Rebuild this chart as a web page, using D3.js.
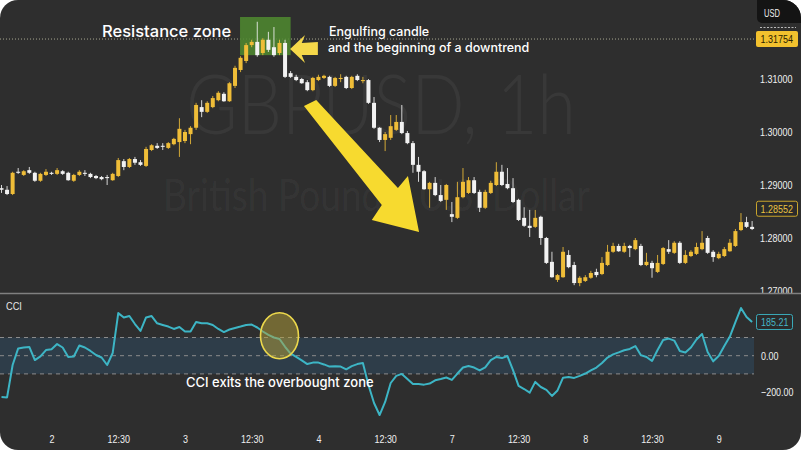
<!DOCTYPE html>
<html>
<head>
<meta charset="utf-8">
<script src="https://cdn.jsdelivr.net/npm/d3@7"></script>
<style>
  body { margin: 0; background: #ffffff; }
  svg { display: block; }
</style>
</head>
<body>
<div id="chart"></div>
<script>
// GBPUSD 1h candles
var openP = [1.2894,1.2891,1.2883,1.2925,1.2919,1.2928,1.2923,1.2908,1.2919,1.2923,
  1.2921,1.2926,1.2923,1.2908,1.2919,1.2923,1.2921,1.2917,1.2915,1.2915,
  1.2909,1.2917,1.2945,1.2934,1.2949,1.2943,1.2936,1.2966,1.2974,1.2974,
  1.2970,1.2977,1.2981,1.2983,1.2996,1.3008,1.3047,1.3038,1.3047,1.3060,
  1.3072,1.3058,1.3087,1.3117,1.3134,1.3164,1.3170,1.3149,1.3174,1.3160,
  1.3149,1.3168,1.3111,1.3104,1.3100,1.3094,1.3079,1.3098,1.3102,1.3104,
  1.3087,1.3100,1.3104,1.3083,1.3106,1.3096,1.3098,1.3055,1.3008,1.2985,
  1.2989,1.3004,1.3019,1.2998,1.2979,1.2938,1.2926,1.2892,1.2904,1.2881,
  1.2872,1.2845,1.2838,1.2877,1.2885,1.2909,1.2887,1.2857,1.2885,1.2900,
  1.2925,1.2902,1.2894,1.2872,1.2838,1.2823,1.2821,1.2840,1.2800,1.2755,
  1.2721,1.2726,1.2768,1.2749,1.2715,1.2719,1.2725,1.2736,1.2732,1.2749,
  1.2774,1.2785,1.2774,1.2785,1.2779,1.2785,1.2749,1.2753,1.2736,1.2751,
  1.2779,1.2772,1.2791,1.2753,1.2766,1.2770,1.2779,1.2800,1.2774,1.2762,
  1.2766,1.2775,1.2785,1.2815,1.2830,1.2821];

var highP = [1.2900,1.2898,1.2925,1.2932,1.2928,1.2934,1.2925,1.2923,1.2930,1.2925,
  1.2932,1.2928,1.2925,1.2921,1.2928,1.2928,1.2923,1.2919,1.2917,1.2919,
  1.2923,1.2951,1.2949,1.2951,1.2953,1.2947,1.2972,1.2977,1.2979,1.2979,
  1.2981,1.2989,1.3026,1.3004,1.3011,1.3055,1.3060,1.3058,1.3068,1.3077,
  1.3075,1.3094,1.3125,1.3143,1.3168,1.3174,1.3208,1.3177,1.3189,1.3198,
  1.3174,1.3174,1.3115,1.3108,1.3102,1.3098,1.3104,1.3108,1.3108,1.3106,
  1.3104,1.3109,1.3106,1.3106,1.3109,1.3104,1.3100,1.3066,1.3009,1.3000,
  1.3032,1.3032,1.3051,1.3002,1.2983,1.2953,1.2928,1.2906,1.2915,1.2900,
  1.2902,1.2868,1.2906,1.2932,1.2915,1.2915,1.2891,1.2891,1.2908,1.2943,
  1.2938,1.2932,1.2913,1.2874,1.2858,1.2853,1.2853,1.2842,1.2802,1.2774,
  1.2732,1.2783,1.2777,1.2755,1.2728,1.2730,1.2738,1.2742,1.2764,1.2787,
  1.2791,1.2789,1.2791,1.2787,1.2800,1.2789,1.2772,1.2757,1.2768,1.2783,
  1.2796,1.2794,1.2794,1.2777,1.2777,1.2791,1.2813,1.2804,1.2777,1.2774,
  1.2783,1.2798,1.2817,1.2847,1.2840,1.2832];

var lowP = [1.2885,1.2881,1.2881,1.2921,1.2917,1.2921,1.2906,1.2906,1.2917,1.2919,
  1.2919,1.2919,1.2908,1.2906,1.2917,1.2917,1.2913,1.2911,1.2909,1.2900,
  1.2908,1.2915,1.2928,1.2932,1.2938,1.2936,1.2934,1.2964,1.2968,1.2966,
  1.2968,1.2975,1.2953,1.2979,1.2977,1.3004,1.3028,1.3036,1.3045,1.3058,
  1.3057,1.3057,1.3083,1.3113,1.3130,1.3160,1.3142,1.3145,1.3151,1.3142,
  1.3145,1.3102,1.3102,1.3096,1.3091,1.3077,1.3077,1.3096,1.3100,1.3085,
  1.3085,1.3094,1.3081,1.3081,1.3096,1.3092,1.3053,1.3006,1.2981,1.2964,
  1.2985,1.3002,1.2996,1.2977,1.2923,1.2906,1.2891,1.2857,1.2879,1.2868,
  1.2853,1.2830,1.2836,1.2875,1.2883,1.2883,1.2849,1.2855,1.2883,1.2898,
  1.2898,1.2892,1.2866,1.2832,1.2821,1.2802,1.2819,1.2787,1.2751,1.2725,
  1.2717,1.2725,1.2743,1.2711,1.2709,1.2717,1.2723,1.2726,1.2730,1.2747,
  1.2772,1.2774,1.2772,1.2764,1.2777,1.2747,1.2747,1.2725,1.2734,1.2749,
  1.2770,1.2770,1.2751,1.2751,1.2764,1.2768,1.2777,1.2770,1.2755,1.2760,
  1.2764,1.2774,1.2783,1.2813,1.2819,1.2815];

var closeP = [1.2891,1.2883,1.2923,1.2923,1.2926,1.2923,1.2908,1.2921,1.2925,1.2921,
  1.2928,1.2921,1.2909,1.2919,1.2925,1.2921,1.2915,1.2913,1.2911,1.2913,
  1.2921,1.2947,1.2934,1.2949,1.2942,1.2938,1.2968,1.2975,1.2970,1.2972,
  1.2979,1.2987,1.3006,1.3000,1.3008,1.3051,1.3038,1.3055,1.3064,1.3074,
  1.3058,1.3092,1.3121,1.3140,1.3164,1.3170,1.3145,1.3174,1.3155,1.3145,
  1.3168,1.3104,1.3104,1.3098,1.3092,1.3079,1.3102,1.3104,1.3106,1.3087,
  1.3102,1.3102,1.3083,1.3104,1.3098,1.3098,1.3055,1.3008,1.2985,1.2996,
  1.3011,1.3019,1.2998,1.2979,1.2938,1.2925,1.2892,1.2904,1.2881,1.2870,
  1.2900,1.2840,1.2877,1.2906,1.2909,1.2885,1.2857,1.2887,1.2904,1.2925,
  1.2900,1.2894,1.2868,1.2834,1.2823,1.2819,1.2838,1.2800,1.2753,1.2726,
  1.2730,1.2774,1.2745,1.2715,1.2725,1.2726,1.2734,1.2730,1.2753,1.2774,
  1.2785,1.2775,1.2785,1.2781,1.2796,1.2749,1.2755,1.2743,1.2753,1.2781,
  1.2774,1.2791,1.2753,1.2768,1.2774,1.2783,1.2791,1.2772,1.2764,1.2770,
  1.2779,1.2791,1.2813,1.2830,1.2821,1.2817];

// CCI indicator, one value per candle
var cciValues = [-227,-229,-51,40,45,48,-24,-4,31,35,
  64,45,-7,-4,56,45,26,4,-10,-51,
  15,234,210,218,174,136,210,218,178,169,
  160,147,158,133,133,185,178,178,169,147,
  130,144,152,160,169,171,155,133,114,100,
  92,49,12,-7,-26,-46,-38,-38,-48,-60,
  -58,-60,-75,-57,-46,-40,-161,-260,-326,-254,
  -150,-111,-100,-128,-155,-155,-159,-153,-135,-128,
  -120,-133,-98,-65,-57,-65,-81,-64,-24,-7,
  -13,-2,-79,-166,-183,-203,-144,-172,-188,-221,
  -191,-121,-117,-122,-111,-98,-81,-65,-40,-10,
  7,18,30,37,53,3,-7,-29,31,86,
  94,83,26,18,45,89,119,20,-31,-2,
  53,105,185,262,213,185.21];

var timeTickIndex = [9, 21, 33, 45, 57, 69, 81, 93, 105, 117, 129];
var timeTickLabels = ["2", "12:30", "3", "12:30", "4", "12:30", "7", "12:30", "8", "12:30", "9"];
var priceTicks = [1.31, 1.30, 1.29, 1.28, 1.27];
var cciTicks = [0, -200];
var cciLevels = [100, 0, -100];
var markedPrice = 1.31754;
var lastPrice = 1.28552;
var lastCci = 185.21;

if (openP.length != highP.length || openP.length != lowP.length ||
    openP.length != closeP.length || openP.length != cciValues.length) {
  throw new Error("length mismatch " + [openP.length, highP.length, lowP.length, closeP.length, cciValues.length]);
}

var W = 801, H = 450;
var upColor = "#efbd38", downColor = "#f2f2f2";
var axisFont = "'Liberation Sans', Arial, sans-serif";
var axisSize = "11px";
var textFont = "Inter, Roboto, 'Noto Sans', sans-serif";

// squeeze the axis labels the way the narrow chart font looks
function narrow(sel) {
  sel.each(function() {
    var w = 0;
    for (var ch of this.textContent) {
      if (ch == "." || ch == ":") w += 2.4;
      else if (ch == "-") w += 3.4;
      else if (/[A-Z]/.test(ch)) w += 5.3;
      else w += 5.0;
    }
    d3.select(this).attr("textLength", w).attr("lengthAdjust", "spacingAndGlyphs");
  });
}

var candles = openP.map(function(o, i) {
  return { i: i, o: o, h: highP[i], l: lowP[i], c: closeP[i] };
});

var x = d3.scaleLinear().domain([0, candles.length - 1]).range([1.5, 752.1]);
var y = d3.scaleLinear().domain([1.27, 1.32]).range([291, 26]);
var yc = d3.scaleLinear().domain([-200, 200]).range([392.1, 319.3]);
var plotRight = 754;

var svg = d3.select("#chart").append("svg")
    .attr("width", W)
    .attr("height", H);

var defs = svg.append("defs");
defs.append("clipPath").attr("id", "card")
  .append("rect").attr("width", W).attr("height", H).attr("rx", 18).attr("ry", 18);
defs.append("clipPath").attr("id", "toppane")
  .append("rect").attr("width", W).attr("height", 293);

var root = svg.append("g").attr("clip-path", "url(#card)");
root.append("rect").attr("width", W).attr("height", H).attr("fill", "#2e2e2e");

// ---------- price pane ----------
var pricePane = root.append("g").attr("clip-path", "url(#toppane)");

// watermark
pricePane.append("text")
    .attr("x", 186).attr("y", 134)
    .attr("textLength", 390).attr("lengthAdjust", "spacingAndGlyphs")
    .style("font-family", "Lato, 'Open Sans', sans-serif")
    .style("font-weight", 300)
    .style("font-size", "82px")
    .attr("fill", "#ffffff").attr("fill-opacity", 0.05)
    .text("GBPUSD, 1h");
pricePane.append("text")
    .attr("x", 163).attr("y", 211)
    .attr("textLength", 427).attr("lengthAdjust", "spacingAndGlyphs")
    .style("font-family", "Lato, 'Open Sans', sans-serif")
    .style("font-size", "44px")
    .attr("fill", "#ffffff").attr("fill-opacity", 0.045)
    .text("British Pound / U.S. Dollar");

// dotted marked-price line
pricePane.append("line")
    .attr("x1", 0).attr("x2", plotRight)
    .attr("y1", y(markedPrice)).attr("y2", y(markedPrice))
    .attr("stroke", "#a8a890").attr("stroke-width", 1)
    .attr("stroke-dasharray", "1,2");

// resistance zone
pricePane.append("rect")
    .attr("x", x(42.9)).attr("width", x(52) - x(42.9))
    .attr("y", y(1.3217)).attr("height", y(1.3145) - y(1.3217))
    .attr("fill", "#4f8a2f").attr("fill-opacity", 0.85);

// candles
var cg = pricePane.append("g").selectAll("g")
    .data(candles)
    .enter()
    .append("g");

cg.append("line")
    .attr("x1", d => x(d.i)).attr("x2", d => x(d.i))
    .attr("y1", d => y(d.h)).attr("y2", d => y(d.l))
    .attr("stroke", d => d.c >= d.o ? upColor : downColor)
    .attr("stroke-opacity", 0.85)
    .attr("stroke-width", 1);

cg.append("rect")
    .attr("x", d => x(d.i) - 2)
    .attr("width", 4)
    .attr("y", d => y(Math.max(d.o, d.c)))
    .attr("height", d => Math.max(1, Math.abs(y(d.o) - y(d.c))))
    .attr("fill", d => d.c >= d.o ? upColor : downColor);

// big arrow of the downtrend, points given in (candle index, price)
var arrowPts = [[54.4, 1.30491], [56.6, 1.30604], [71.3, 1.28943], [73.1, 1.29170],
                [75.1, 1.28113], [66.6, 1.28340], [68.4, 1.28623]];
pricePane.append("polygon")
    .attr("points", arrowPts.map(p => x(p[0]) + "," + y(p[1])).join(" "))
    .attr("fill", "#f7da2f");

// small arrow pointing at the engulfing candle
var smallArrow = [[51.9, 1.31566], [54.6, 1.31830], [54.0, 1.31679], [56.9, 1.31698],
                  [56.9, 1.31453], [54.0, 1.31453], [54.6, 1.31302]];
pricePane.append("polygon")
    .attr("points", smallArrow.map(p => x(p[0]) + "," + y(p[1])).join(" "))
    .attr("fill", "#f5d84a");

// annotation texts
pricePane.append("text")
    .attr("x", 102).attr("y", 37)
    .style("font-family", textFont).style("font-size", "16.5px").style("font-weight", 500)
    .attr("fill", "#ffffff")
    .text("Resistance zone");
pricePane.append("text")
    .attr("x", 329).attr("y", 36)
    .style("font-family", textFont).style("font-size", "12.5px").style("font-weight", 500)
    .attr("fill", "#ffffff")
    .text("Engulfing candle");
pricePane.append("text")
    .attr("x", 328).attr("y", 52)
    .style("font-family", textFont).style("font-size", "12.5px").style("font-weight", 500)
    .attr("fill", "#ffffff")
    .text("and the beginning of a downtrend");

// price axis
var priceAxis = pricePane.append("g")
    .attr("transform", "translate(760,0)")
    .call(d3.axisRight(y).tickValues(priceTicks).tickFormat(d3.format(".5f")).tickSize(0).tickPadding(0));
priceAxis.select(".domain").remove();
priceAxis.selectAll("text")
    .style("font-family", axisFont).style("font-size", axisSize)
    .attr("fill", "#f0f0f0")
    .call(narrow);

// USD box
pricePane.append("rect")
    .attr("x", 757).attr("y", -6).attr("width", 50).attr("height", 29).attr("rx", 5)
    .attr("fill", "#141414");
pricePane.append("text")
    .attr("x", 764).attr("y", 17)
    .style("font-family", axisFont).style("font-size", "10.5px")
    .attr("fill", "#f0f0f0")
    .text("USD")
    .call(narrow);
pricePane.append("line")
    .attr("x1", 760).attr("x2", 796).attr("y1", 27.5).attr("y2", 27.5)
    .attr("stroke", "#bbbbbb").attr("stroke-dasharray", "2,1.5");

// marked price label
pricePane.append("rect")
    .attr("x", 756).attr("y", y(markedPrice) - 8).attr("width", 42).attr("height", 16).attr("rx", 2)
    .attr("fill", "#f2c12e");
pricePane.append("text")
    .attr("x", 760.5).attr("y", y(markedPrice) + 4)
    .style("font-family", axisFont).style("font-size", axisSize)
    .attr("fill", "#2a2200")
    .text(d3.format(".5f")(markedPrice))
    .call(narrow);

// last price label
pricePane.append("rect")
    .attr("x", 756.5).attr("y", y(lastPrice) - 7.5).attr("width", 41).attr("height", 15).attr("rx", 2)
    .attr("fill", "#2b2b2b").attr("stroke", "#c9a52c").attr("stroke-width", 1);
pricePane.append("text")
    .attr("x", 760.5).attr("y", y(lastPrice) + 4)
    .style("font-family", axisFont).style("font-size", axisSize)
    .attr("fill", "#e9c340")
    .text(d3.format(".5f")(lastPrice))
    .call(narrow);

// separator
root.append("line")
    .attr("x1", 0).attr("x2", W).attr("y1", 293.5).attr("y2", 293.5)
    .attr("stroke", "#808080").attr("stroke-width", 1.5);

// ---------- CCI pane ----------
var cciPane = root.append("g");

cciPane.append("rect")
    .attr("x", 0).attr("width", plotRight)
    .attr("y", yc(100)).attr("height", yc(-100) - yc(100))
    .attr("fill", "#2f5a7a").attr("fill-opacity", 0.35);

cciPane.selectAll(".lvl")
    .data(cciLevels)
    .enter()
    .append("line")
    .attr("class", "lvl")
    .attr("x1", 0).attr("x2", plotRight)
    .attr("y1", d => yc(d)).attr("y2", d => yc(d))
    .attr("stroke", "#8c8c8c").attr("stroke-width", 1)
    .attr("stroke-dasharray", "4,4");

cciPane.append("path")
    .datum(cciValues)
    .attr("d", d3.line().x((d, i) => x(i)).y(d => yc(d)))
    .attr("fill", "none")
    .attr("stroke", "#3db5c5")
    .attr("stroke-width", 2)
    .attr("stroke-linejoin", "round");

// circle where CCI leaves the zone
cciPane.append("ellipse")
    .attr("cx", x(50)).attr("cy", yc(110))
    .attr("rx", 19).attr("ry", 23)
    .attr("fill", "#b5a23a").attr("fill-opacity", 0.5)
    .attr("stroke", "#ecd84c").attr("stroke-width", 1.6);

cciPane.append("text")
    .attr("x", 6).attr("y", 310)
    .style("font-family", axisFont).style("font-size", "10.5px")
    .attr("fill", "#e6e6e6")
    .text("CCI")
    .call(narrow);

cciPane.append("text")
    .attr("x", 186).attr("y", 386.5)
    .style("font-family", textFont).style("font-size", "13px").style("font-weight", 500)
    .attr("fill", "#ffffff")
    .text("CCI exits the overbought zone");

var cciAxis = cciPane.append("g")
    .attr("transform", "translate(761,0)")
    .call(d3.axisRight(yc).tickValues(cciTicks).tickFormat(d3.format(".2f")).tickSize(0).tickPadding(0));
cciAxis.select(".domain").remove();
cciAxis.selectAll("text")
    .style("font-family", axisFont).style("font-size", axisSize)
    .attr("fill", "#f0f0f0")
    .call(narrow);

cciPane.append("rect")
    .attr("x", 756.5).attr("y", yc(lastCci) - 7.5).attr("width", 36).attr("height", 15).attr("rx", 2)
    .attr("fill", "#2b2b2b").attr("stroke", "#3aa9b8").attr("stroke-width", 1);
cciPane.append("text")
    .attr("x", 761).attr("y", yc(lastCci) + 4)
    .style("font-family", axisFont).style("font-size", axisSize)
    .attr("fill", "#45b9c8")
    .text(d3.format(".2f")(lastCci))
    .call(narrow);

// time axis
var timeAxis = cciPane.append("g")
    .attr("transform", "translate(0,430)")
    .call(d3.axisBottom(x).tickValues(timeTickIndex)
      .tickFormat((d, i) => timeTickLabels[i]).tickSize(0).tickPadding(5));
timeAxis.select(".domain").remove();
timeAxis.selectAll("text")
    .style("font-family", axisFont).style("font-size", "11.5px")
    .attr("fill", "#f0f0f0")
    .call(narrow);
</script>
</body>
</html>
